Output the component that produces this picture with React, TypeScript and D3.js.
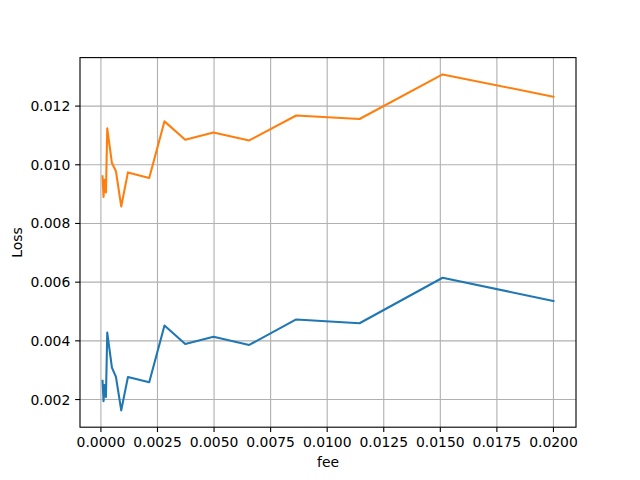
import React, { useRef, useEffect } from 'react';
import * as d3 from 'd3';

// fee values (shared by both series)
const fees = [
  0.000072, 0.000116, 0.00016, 0.000222, 0.00028, 0.000487, 0.000664, 0.000898,
  0.001194, 0.002135, 0.00281, 0.003726, 0.004977, 0.006553, 0.00863, 0.01143,
  0.0151, 0.02,
];

// blue series
const lossA = [
  0.00264, 0.00194, 0.00249, 0.00209, 0.00428, 0.00309, 0.00277, 0.00163,
  0.00277, 0.00259, 0.00452, 0.00389, 0.00414, 0.00386, 0.00473, 0.0046,
  0.00615, 0.00536,
];

// orange series
const lossB = [
  0.00961, 0.0089, 0.00949, 0.00906, 0.01124, 0.01006, 0.00978, 0.00858,
  0.00974, 0.00955, 0.01148, 0.01085, 0.0111, 0.01083, 0.01168, 0.01156,
  0.01308, 0.01232,
];

const xTicks = [0, 0.0025, 0.005, 0.0075, 0.01, 0.0125, 0.015, 0.0175, 0.02];
const yTicks = [0.002, 0.004, 0.006, 0.008, 0.01, 0.012];

const colors = ['#1f77b4', '#ff7f0e'];

const W = 640;
const H = 480;

const App: React.FC = () => {
  const svgRef = useRef<SVGSVGElement>(null);

  useEffect(() => {
    if (!svgRef.current) return;
    const svg = d3.select(svgRef.current);
    svg.selectAll('*').remove();

    const left = 80, right = 576, top = 57.6, bottom = 427.2;
    const font = 'DejaVu Sans, sans-serif';

    const pad = (ext: [number, number]) => {
      const d = (ext[1] - ext[0]) * 0.05;
      return [ext[0] - d, ext[1] + d];
    };
    const xExt = d3.extent(fees) as [number, number];
    const yExt = d3.extent([...lossA, ...lossB]) as [number, number];

    const x = d3.scaleLinear().domain(pad(xExt)).range([left, right]);
    const y = d3.scaleLinear().domain(pad(yExt)).range([bottom, top]);

    svg.append('rect').attr('width', W).attr('height', H).attr('fill', '#fff');

    // grid
    const grid = svg.append('g').attr('stroke', '#b0b0b0').attr('stroke-width', 1.11);
    xTicks.forEach(t => {
      grid.append('line').attr('x1', x(t)).attr('x2', x(t)).attr('y1', top).attr('y2', bottom);
    });
    yTicks.forEach(t => {
      grid.append('line').attr('x1', left).attr('x2', right).attr('y1', y(t)).attr('y2', y(t));
    });

    // lines
    const line = d3.line<number>()
      .x((_, i) => x(fees[i]))
      .y(d => y(d));
    [lossA, lossB].forEach((s, i) => {
      svg.append('path')
        .datum(s)
        .attr('d', line)
        .attr('fill', 'none')
        .attr('stroke', colors[i])
        .attr('stroke-width', 2.08)
        .attr('stroke-linejoin', 'round')
        .attr('stroke-linecap', 'square');
    });

    // spines
    svg.append('rect')
      .attr('x', left).attr('y', top)
      .attr('width', right - left).attr('height', bottom - top)
      .attr('fill', 'none').attr('stroke', '#000').attr('stroke-width', 1.11);

    // x ticks
    xTicks.forEach(t => {
      svg.append('line')
        .attr('x1', x(t)).attr('x2', x(t))
        .attr('y1', bottom).attr('y2', bottom + 4.86)
        .attr('stroke', '#000').attr('stroke-width', 1.11);
      svg.append('text')
        .attr('x', x(t)).attr('y', bottom + 9.7)
        .attr('dy', '0.76em')
        .attr('text-anchor', 'middle')
        .attr('font-family', font).attr('font-size', 13.9)
        .text(d3.format('.4f')(t));
    });

    // y ticks
    yTicks.forEach(t => {
      svg.append('line')
        .attr('x1', left - 4.86).attr('x2', left)
        .attr('y1', y(t)).attr('y2', y(t))
        .attr('stroke', '#000').attr('stroke-width', 1.11);
      svg.append('text')
        .attr('x', left - 9.7).attr('y', y(t))
        .attr('dy', '0.36em')
        .attr('text-anchor', 'end')
        .attr('font-family', font).attr('font-size', 13.9)
        .text(d3.format('.3f')(t));
    });

    svg.append('text')
      .attr('x', (left + right) / 2).attr('y', 467)
      .attr('text-anchor', 'middle')
      .attr('font-family', font).attr('font-size', 13.9)
      .text('fee');

    svg.append('text')
      .attr('transform', `translate(22,${(top + bottom) / 2}) rotate(-90)`)
      .attr('text-anchor', 'middle')
      .attr('font-family', font).attr('font-size', 13.9)
      .text('Loss');
  }, []);

  return (
    <svg
      ref={svgRef}
      width={W}
      height={H}
      style={{ position: 'absolute', left: 0, top: 0 }}
    />
  );
};

export default App;
